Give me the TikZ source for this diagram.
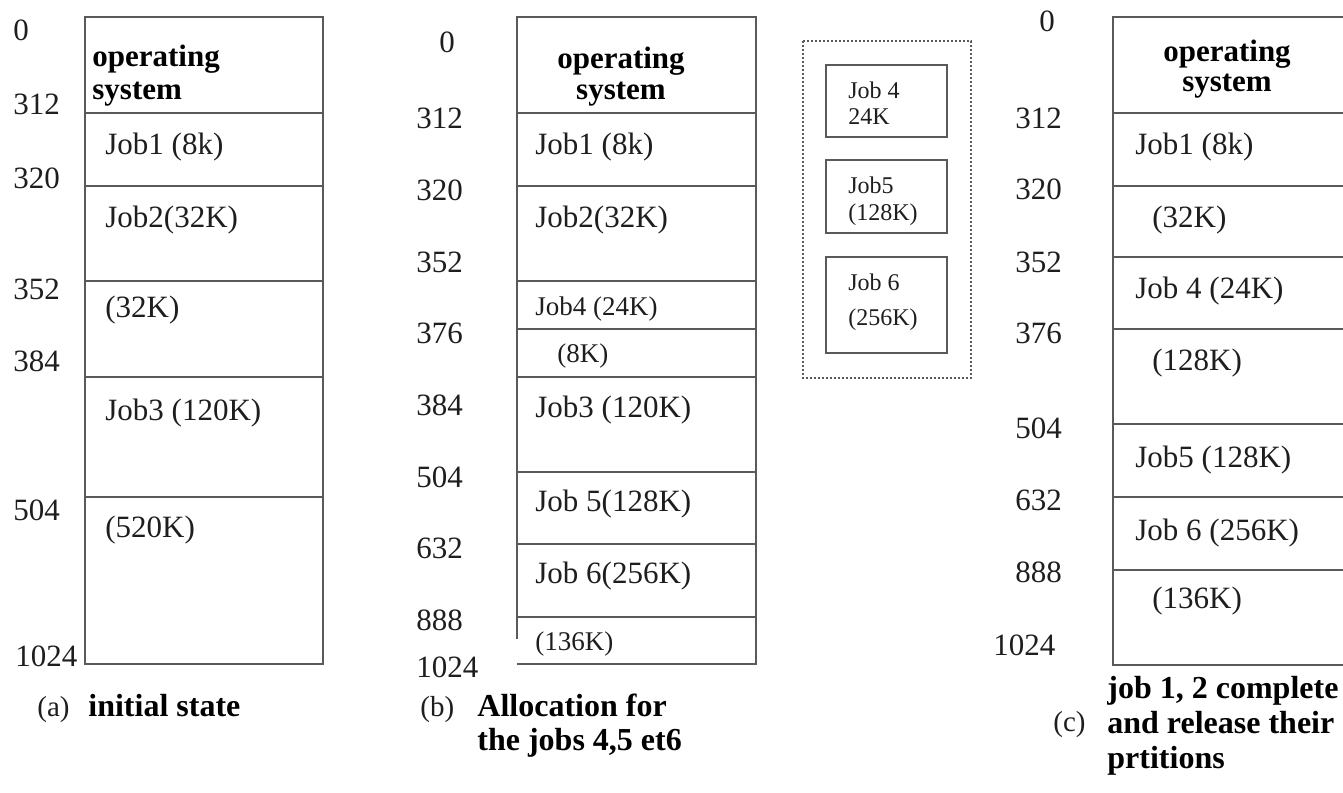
\documentclass[tikz,border=0pt]{standalone}
\usepackage{fontspec}
\setmainfont{Liberation Serif}
\definecolor{rule}{HTML}{5A5A5A}
\definecolor{ink}{HTML}{1E1E1E}
\tikzset{
  frame/.style={draw=rule, line width=1pt},
  addr/.style={inner sep=0pt, anchor=base west, text=ink, font=\fontsize{15.5}{18}\selectfont},
  part/.style={inner sep=0pt, anchor=base west, text=ink, font=\fontsize{15.5}{18}\selectfont},
  small/.style={inner sep=0pt, anchor=base west, text=ink, font=\fontsize{13.5}{16}\selectfont},
  tiny/.style={inner sep=0pt, anchor=base west, text=ink, font=\fontsize{12}{14}\selectfont},
  ostext/.style={inner sep=0pt, anchor=base, text=black, font=\bfseries\fontsize{15.5}{18}\selectfont},
  ostextl/.style={ostext, anchor=base west},
  tag/.style={inner sep=0pt, anchor=base west, text=ink, font=\fontsize{14.5}{16}\selectfont},
  caption/.style={inner sep=0pt, anchor=base west, text=black, font=\bfseries\fontsize{16}{18}\selectfont},
}
\begin{document}
\begin{tikzpicture}[x=0.5pt, y=-0.5pt]
\useasboundingbox[fill=white] (0,0) rectangle (1343,792);
\begin{scope}
\clip (0,0) rectangle (1343,792);

% ---------- (a) initial state ----------
\draw[frame] (85,17) rectangle (323,664);
\foreach \y in {113,186,281,377,497} \draw[frame] (85,\y) -- (323,\y);
\node[addr] (a0)    at (13,41)  {0};
\node[addr] (a312)  at (13,115) {312};
\node[addr] (a320)  at (13,188) {320};
\node[addr] (a352)  at (13,299) {352};
\node[addr] (a384)  at (13,371) {384};
\node[addr] (a504)  at (13,520) {504};
\node[addr] (a1024) at (15,666) {1024};
\node[ostextl] (aos1) at (92,67) {operating};
\node[ostextl] (aos2) at (92,99) {system};
\node[part] (aj1) at (105,155) {Job1 (8k)};
\node[part] (aj2) at (105,227) {Job2(32K)};
\node[part] (af1) at (105,317) {(32K)};
\node[part] (aj3) at (105,420) {Job3 (120K)};
\node[part] (af2) at (105,537) {(520K)};
\node[tag] (atag) at (37,716) {(a)};
\node[caption] (acap) at (88,716) {initial state};

% ---------- (b) allocation ----------
\draw[frame] (517,639) -- (517,17) -- (756,17) -- (756,664) -- (517,664);
\foreach \y in {113,186,281,329,377,472,544,617} \draw[frame] (517,\y) -- (756,\y);
\node[addr] (b0)    at (439,53)  {0};
\node[addr] (b312)  at (416,128) {312};
\node[addr] (b320)  at (416,200) {320};
\node[addr] (b352)  at (416,272) {352};
\node[addr] (b376)  at (416,343) {376};
\node[addr] (b384)  at (416,415) {384};
\node[addr] (b504)  at (416,487) {504};
\node[addr] (b632)  at (416,558) {632};
\node[addr] (b888)  at (416,630) {888};
\node[addr] (b1024) at (416,677) {1024};
\node[ostext] (bos1) at (621,69)  {operating};
\node[ostext] (bos2) at (621,100) {system};
\node[part]  (bj1) at (535,155) {Job1 (8k)};
\node[part]  (bj2) at (535,227) {Job2(32K)};
\node[small] (bj4) at (535,315) {Job4 (24K)};
\node[small] (bf1) at (557,362) {(8K)};
\node[part]  (bj3) at (535,417) {Job3 (120K)};
\node[part]  (bj5) at (535,511) {Job 5(128K)};
\node[part]  (bj6) at (535,583) {Job 6(256K)};
\node[small] (bf2) at (535,650) {(136K)};
\node[tag] (btag) at (420,716) {(b)};
\node[caption] (bcap1) at (477,716) {Allocation for};
\node[caption] (bcap2) at (477,750) {the jobs 4,5 et6};

% waiting jobs
\draw[draw=rule, line width=1pt, densely dotted] (803,41) rectangle (971,378);
\draw[frame] (826,65)  rectangle (947,137);
\draw[frame] (826,160) rectangle (947,233);
\draw[frame] (826,257) rectangle (947,353);
\node[tiny] (q4a) at (848,98)  {Job 4};
\node[tiny] (q4b) at (848,125) {24K};
\node[tiny] (q5a) at (848,193) {Job5};
\node[tiny] (q5b) at (848,220) {(128K)};
\node[tiny] (q6a) at (848,290) {Job 6};
\node[tiny] (q6b) at (848,325) {(256K)};

% ---------- (c) after jobs 1 and 2 ----------
\draw[frame] (1360,17) -- (1113,17) -- (1113,665) -- (1360,665);
\foreach \y in {113,186,257,329,424,497,570} \draw[frame] (1113,\y) -- (1360,\y);
\node[addr] (c0)    at (1039,32)  {0};
\node[addr] (c312)  at (1015,128) {312};
\node[addr] (c320)  at (1015,199) {320};
\node[addr] (c352)  at (1015,272) {352};
\node[addr] (c376)  at (1015,343) {376};
\node[addr] (c504)  at (1015,438) {504};
\node[addr] (c632)  at (1015,510) {632};
\node[addr] (c888)  at (1015,582) {888};
\node[addr] (c1024) at (993,655)  {1024};
\node[ostext] (cos1) at (1227,62) {operating};
\node[ostext] (cos2) at (1227,92) {system};
\node[part] (cj1) at (1135,155) {Job1 (8k)};
\node[part] (cf1) at (1152,227) {(32K)};
\node[part] (cj4) at (1135,298) {Job 4 (24K)};
\node[part] (cf2) at (1152,370) {(128K)};
\node[part] (cj5) at (1135,467) {Job5 (128K)};
\node[part] (cj6) at (1135,540) {Job 6 (256K)};
\node[part] (cf3) at (1152,608) {(136K)};
\node[tag] (ctag) at (1053,731) {(c)};
\node[caption] (ccap1) at (1107,698) {job 1, 2 complete};
\node[caption] (ccap2) at (1107,733) {and release their};
\node[caption] (ccap3) at (1107,768) {prtitions};
\end{scope}
\end{tikzpicture}
\end{document}
